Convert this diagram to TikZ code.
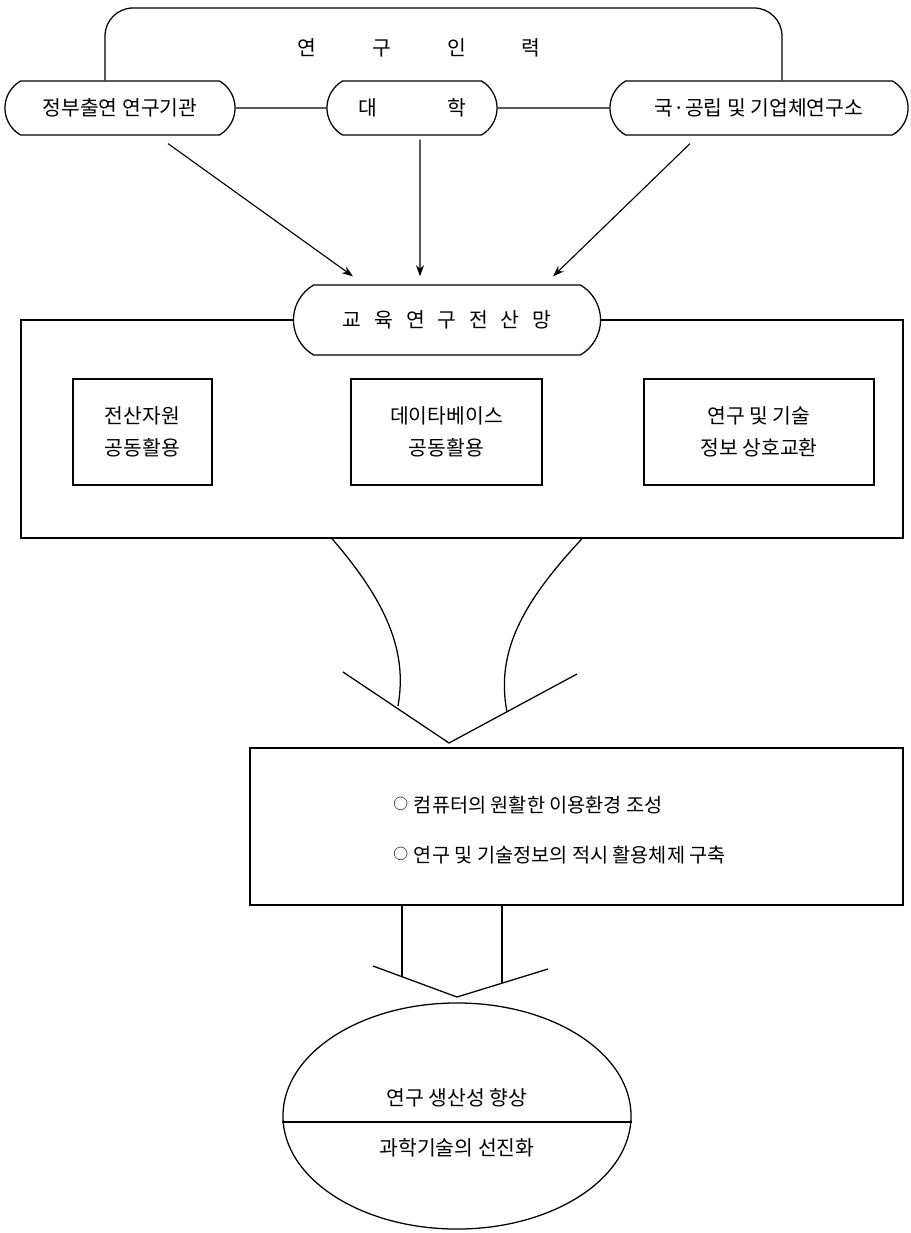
\documentclass[tikz,border=0pt]{standalone}
\usepackage{fontspec}
\newfontfamily\kr{Noto Sans CJK KR}
\usetikzlibrary{shapes.geometric, shapes.misc, arrows.meta, positioning}
\tikzset{
    txt/.style={font=\kr\fontsize{14.5}{23}\selectfont, align=center},
    base/.style={txt, draw, line width=0.9pt},
    org/.style={base, rounded rectangle, rounded rectangle arc length=120, minimum height=1.35cm, inner sep=0pt},
    sub/.style={base, rectangle, minimum height=2.65cm},
    arrow/.style={-{Stealth[length=2.8mm, width=2mm]}, line width=0.8pt}
}
\newcommand{\smallring}{\raisebox{2.2pt}{\fontsize{10.5}{10.5}\selectfont ○}\hspace{0.3em}}

\begin{document}
\begin{tikzpicture}[x=0.025cm, y=-0.025cm, line width=0.9pt]
\useasboundingbox (0,0) rectangle (911,1233);
% research staff
\node[txt] (staff) at (419,48) {연\hspace{1.4cm}구\hspace{1.4cm}인\hspace{1.4cm}력};
\node[org, minimum width=5.75cm] (gov) at (120,108) {정부출연 연구기관};
\node[org, minimum width=4.25cm] (univ) at (412,108) {대\hspace{1.75cm}학};
\node[org, minimum width=7.45cm] (inst) at (759,108) {국·공립 및 기업체연구소};
\coordinate (tl) at (105,8);
\coordinate (tr) at (782,8);
\draw[rounded corners=0.7cm] (gov.north -| tl) -- (tl) -- (tr) -- (inst.north -| tr);
\draw (gov) -- (univ);
\draw (univ) -- (inst);

% network
\node[draw, minimum width=22.05cm, minimum height=5.45cm] (panel) at (462,429) {};
\node[org, minimum width=7.675cm, minimum height=1.75cm, fill=white] (net) at (447,320) {교\hspace{0.32cm}육\hspace{0.32cm}연\hspace{0.32cm}구\hspace{0.32cm}전\hspace{0.32cm}산\hspace{0.32cm}망};
\draw[arrow] ([xshift=1.2cm,yshift=-0.2cm]gov.south) -- ([xshift=-2.35cm,yshift=0.2cm]net.north);
\draw[arrow] ([xshift=0.2cm,yshift=-0.1cm]univ.south) -- ([xshift=-0.675cm,yshift=0.2cm]net.north);
\draw[arrow] ([xshift=-1.725cm,yshift=-0.2cm]inst.south) -- ([xshift=2.65cm,yshift=0.2cm]net.north);
\node[sub, minimum width=3.475cm] (res) at (142.5,432) {전산자원\\공동활용};
\node[sub, minimum width=4.775cm] (db) at (446.5,432) {데이타베이스\\공동활용};
\node[sub, minimum width=5.75cm] (info) at (759,432) {연구 및 기술\\정보 상호교환};

% first wide arrow
\coordinate (v1l) at (343,672);
\coordinate (v1tip) at (449,743);
\coordinate (v1r) at (577,674);
\coordinate (c1) at (398,706);
\coordinate (c2) at (507,712);
\draw ([xshift=-3.25cm]panel.south) .. controls (385,600) and (408,650) .. (c1);
\draw ([xshift=3cm]panel.south) .. controls (525,600) and (495,650) .. (c2);
\draw (v1l) -- (v1tip) -- (v1r);

% environment
\node[draw, minimum width=16.325cm, minimum height=3.925cm] (env) at (576.5,826.5) {};
\node[txt, align=left, anchor=west, font=\kr\fontsize{14}{35.5}\selectfont] (envtxt) at (388,830) {\smallring 컴퓨터의 원활한 이용환경 조성\\\smallring 연구 및 기술정보의 적시 활용체제 구축};

% second wide arrow
\coordinate (v2l) at (373,966);
\coordinate (v2tip) at (457,997);
\coordinate (v2r) at (548,969);
\coordinate (s1) at (402,977);
\coordinate (s2) at (502,983);
\draw (env.south -| s1) -- (s1);
\draw (env.south -| s2) -- (s2);
\draw (v2l) -- (v2tip) -- (v2r);

% goal
\node[draw, ellipse, minimum width=8.7cm, minimum height=5.65cm] (goal) at (457,1116) {};
\draw ([yshift=-0.15cm]goal.west) -- ([yshift=-0.15cm]goal.east);
\node[txt] (prod) at ([yshift=0.45cm]goal.center) {연구 생산성 향상};
\node[txt] (adv) at ([yshift=-0.8cm]goal.center) {과학기술의 선진화};
\end{tikzpicture}
\end{document}
